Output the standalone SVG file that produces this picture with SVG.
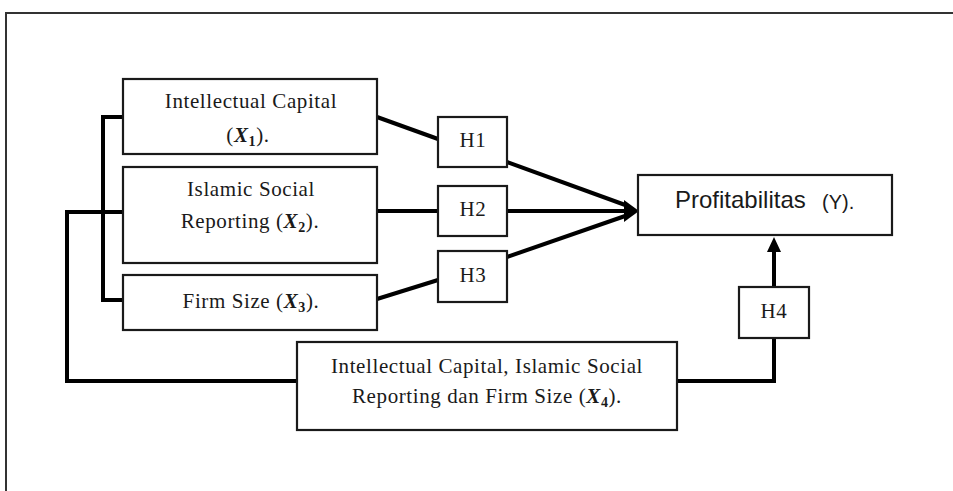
<svg xmlns="http://www.w3.org/2000/svg" width="953" height="491" viewBox="0 0 953 491">
<style>
.box{fill:#fff;stroke:#1a1a1a;stroke-width:2.2}
.t{font-family:"Liberation Serif","Times New Roman",serif;font-size:21px;fill:#1a1a1a;text-anchor:middle;letter-spacing:0.6px}
.x{font-style:italic;font-weight:bold}
.s{font-size:14px;font-weight:bold}
.p{font-family:"Liberation Sans",Arial,sans-serif;fill:#1a1a1a}
.c{fill:none;stroke:#000;stroke-width:4;stroke-linejoin:miter}
</style>
<rect width="953" height="491" fill="#fff"/>
<path d="M6,491 V13 H953" fill="none" stroke="#333" stroke-width="2"/>
<g id="connectors">
<path class="c" d="M123,117 H103 V300 H123"/>
<path class="c" d="M123,212 H67 V381 H297"/>
<path class="c" d="M677,381 H774 V338"/>
<path class="c" d="M774,287 V250"/>
<polygon points="774,237 767,252 781,252" fill="#000"/>
<path class="c" d="M377,117 L438,139"/>
<path class="c" d="M377,211 H438"/>
<path class="c" d="M377,299 L438,280"/>
<path class="c" d="M507,162 L628,206"/>
<path class="c" d="M507,211 H626"/>
<path class="c" d="M507,257 L628,215"/>
<polygon points="639,211 624,200 624,222" fill="#000"/>
</g>
<g id="ic">
<rect class="box" x="123" y="79" width="254" height="75"/>
<text class="t" x="251" y="108">Intellectual Capital</text>
<text class="t" x="248" y="142">(<tspan class="x">X</tspan><tspan class="s" dy="4">1</tspan><tspan dy="-4">).</tspan></text>
</g>
<g id="isr">
<rect class="box" x="123" y="167" width="254" height="96"/>
<text class="t" x="251" y="196">Islamic Social</text>
<text class="t" x="250" y="228">Reporting (<tspan class="x">X</tspan><tspan class="s" dy="4">2</tspan><tspan dy="-4">).</tspan></text>
</g>
<g id="fs">
<rect class="box" x="123" y="275" width="254" height="55"/>
<text class="t" x="251" y="308">Firm Size (<tspan class="x">X</tspan><tspan class="s" dy="4">3</tspan><tspan dy="-4">).</tspan></text>
</g>
<g id="h1">
<rect class="box" x="438" y="117" width="69" height="50"/>
<text class="t" x="473" y="147">H1</text>
</g>
<g id="h2">
<rect class="box" x="438" y="186" width="69" height="50"/>
<text class="t" x="473" y="216">H2</text>
</g>
<g id="h3">
<rect class="box" x="438" y="251" width="69" height="51"/>
<text class="t" x="473" y="282">H3</text>
</g>
<g id="prof">
<rect class="box" x="638" y="175" width="254" height="60"/>
<text class="p" x="675" y="208" font-size="24">Profitabilitas</text>
<text class="p" x="822" y="209" font-size="20">(Y).</text>
</g>
<g id="h4">
<rect class="box" x="739" y="287" width="70" height="51"/>
<text class="t" x="774" y="318">H4</text>
</g>
<g id="x4">
<rect class="box" x="297" y="342" width="380" height="88"/>
<text class="t" x="487" y="373">Intellectual Capital, Islamic Social</text>
<text class="t" x="487" y="403">Reporting dan Firm Size (<tspan class="x">X</tspan><tspan class="s" dy="4">4</tspan><tspan dy="-4">).</tspan></text>
</g>
</svg>
